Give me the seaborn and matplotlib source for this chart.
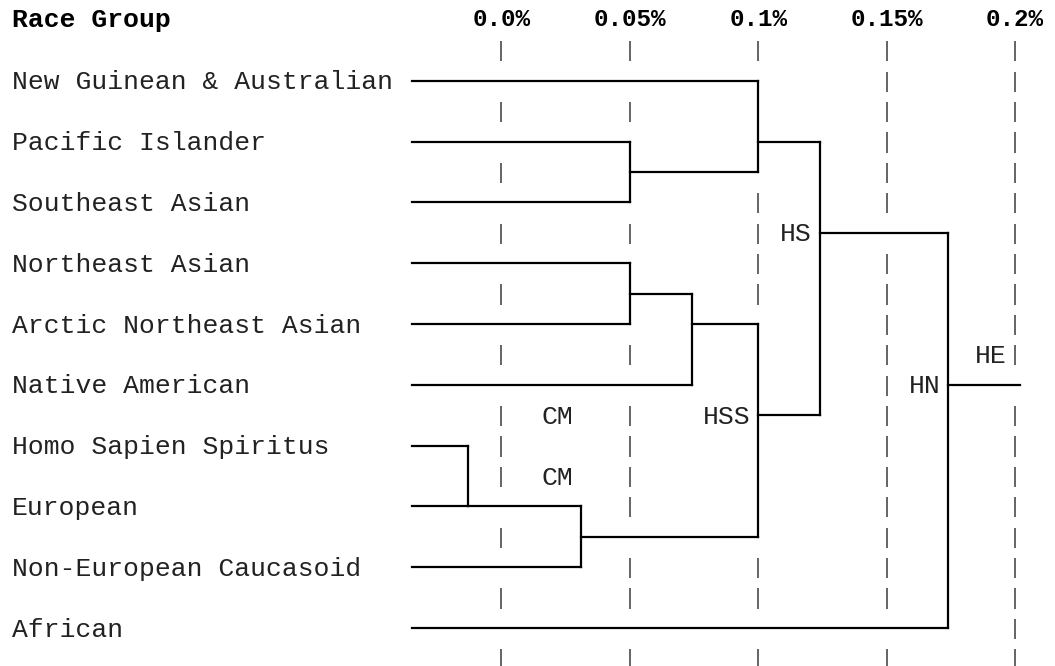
import numpy as np
import pandas as pd
import seaborn as sns
import matplotlib.pyplot as plt

# leaves of the tree, top to bottom, and the text line each one sits on
groups = ["New Guinean & Australian", "Pacific Islander", "Southeast Asian",
          "Northeast Asian", "Arctic Northeast Asian", "Native American",
          "Homo Sapien Spiritus", "European", "Non-European Caucasoid", "African"]
group_rows = [2, 4, 6, 8, 10, 12, 14, 16, 18, 20]

tick_values = [0.0, 0.05, 0.1, 0.15, 0.2]
tick_labels = ["0.0%", "0.05%", "0.1%", "0.15%", "0.2%"]

# merges: a child is a group name or the index of an earlier merge
merge_left = ["Pacific Islander", "New Guinean & Australian", "Northeast Asian", 2,
              "Homo Sapien Spiritus", 4, 3, 1, 7]
merge_right = ["Southeast Asian", 0, "Arctic Northeast Asian", "Native American",
               "European", "Non-European Caucasoid", 5, 6, "African"]
merge_height = [0.05, 0.1, 0.05, 0.074, -0.013, 0.031, 0.1, 0.124, 0.174]
merge_row = [5, 4, 9, 10, 16, 17, 13, 7, 12]
leaf_start = -0.035
root_end = 0.202

tag_text = ["CM", "CM", "HSS", "HS", "HN", "HE"]
tag_x = [0.031, 0.031, 0.1, 0.124, 0.174, 0.2]
tag_row = [13, 15, 13, 7, 12, 11]

n_lines = 21
col = 0.00625  # width of one character cell in % units


def child_pos(c):
    """Return the x end and row of a child (leaf name or merge index)."""
    if isinstance(c, str):
        return leaf_start, group_rows[groups.index(c)]
    return merge_height[c], merge_row[c]


def build_segments():
    segs = []
    for left, right, h in zip(merge_left, merge_right, merge_height):
        lx, ly = child_pos(left)
        rx, ry = child_pos(right)
        segs.append((lx, ly, h, ly))
        segs.append((rx, ry, h, ry))
        segs.append((h, ly, h, ry))
    segs.append((merge_height[-1], merge_row[-1], root_end, merge_row[-1]))
    return segs


def is_covered(segs, g, r, tol=0.002):
    for x0, y0, x1, y1 in segs:
        if y0 == y1 and y0 == r and min(x0, x1) - tol <= g <= max(x0, x1) + tol:
            return True
        if x0 == x1 and abs(x0 - g) < tol and min(y0, y1) <= r <= max(y0, y1):
            return True
    return False


def main():
    sns.set_theme(style="white")
    plt.rcParams['font.family'] = ['Liberation Mono', 'DejaVu Sans Mono']

    segs = build_segments()
    rows = []
    for k, (x0, y0, x1, y1) in enumerate(segs):
        rows.append({'seg': k, 'x': x0, 'y': y0})
        rows.append({'seg': k, 'x': x1, 'y': y1})
    df = pd.DataFrame(rows)

    fig = plt.figure(figsize=(10.55, 6.66), dpi=100)
    ax = fig.add_axes([0, 0, 1, 1])

    # dashed guide columns made of short bars
    for g in tick_values:
        for r in range(1, n_lines + 1):
            if not is_covered(segs, g, r):
                ax.vlines(g, r - 0.3, r + 0.36, color='#3a3a3a', lw=1.1)

    sns.lineplot(data=df, x='x', y='y', units='seg', estimator=None, sort=False,
                 color='black', linewidth=1.6, solid_capstyle='projecting',
                 legend=False, ax=ax)

    px_per_unit = 16.05 / col
    ax.set_xlim(-501.5 / px_per_unit, (1055 - 501.5) / px_per_unit)
    ax.set_ylim((666 - 20) / 30.4, -20 / 30.4)
    ax.axis('off')

    fs = 19
    txt = '#222222'
    ytr = ax.get_yaxis_transform()
    ax.text(0.0114, 0, "Race Group", transform=ytr, fontsize=fs, fontweight='bold',
            ha='left', va='center', color='black')
    for name, r in zip(groups, group_rows):
        ax.text(0.0114, r + 0.05, name, transform=ytr, fontsize=fs, ha='left',
                va='center', color=txt)
    for v, lab in zip(tick_values, tick_labels):
        ax.text(v, 0, lab, fontsize=17.5, fontweight='bold', ha='center',
                va='center', color='black')
    for t, x, r in zip(tag_text, tag_x, tag_row):
        ax.text(x - col / 2, r + 0.05, t, fontsize=fs, ha='right', va='center',
                color=txt)

    fig.savefig('out.png', dpi=100)


if __name__ == '__main__':
    main()
